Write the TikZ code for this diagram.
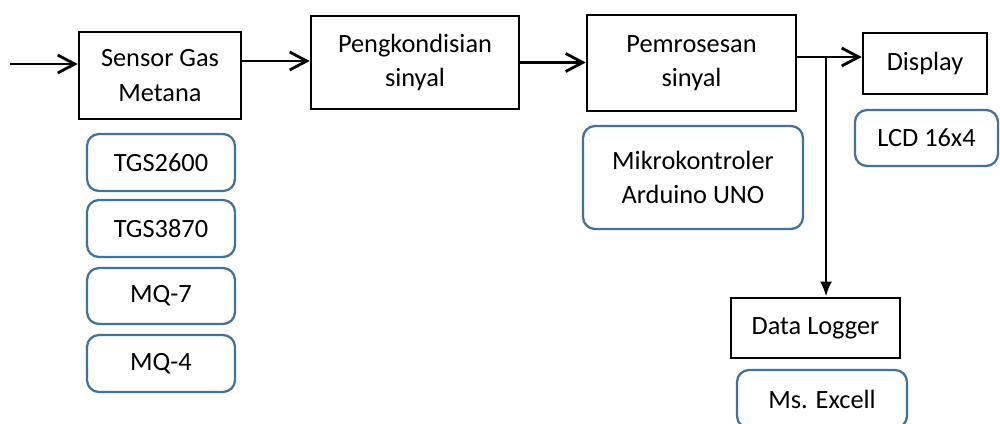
\documentclass[tikz,border=0pt]{standalone}
\usepackage{fontspec}
\setmainfont{Carlito}
\usepackage{tikz}
\usetikzlibrary{arrows.meta,positioning}

\definecolor{birubingkai}{HTML}{41719C}

\begin{document}
\begin{tikzpicture}[x=0.02cm, y=-0.02cm]
\tikzstyle{every node}=[font=\fontsize{15}{19.5}\selectfont, align=center, inner sep=0pt] %%
\tikzstyle{blok}=[draw=black, line width=1.5pt]
\tikzstyle{pilihan}=[draw=birubingkai, line width=1.3pt, rounded corners=0.24cm]
\tikzstyle{panah}=[line width=1.6pt, -{Straight Barb[length=0.34cm,width=0.36cm]}]
\tikzstyle{turun}=[line width=1.6pt, -{Latex[length=0.3cm,width=0.24cm]}]
\useasboundingbox (0,0) rectangle (1000,423);
\clip (0,0) rectangle (1000,423);
%% blok utama
\node[blok, minimum width=3.24cm, minimum height=1.74cm] (sensor) at (160,75.5) {Sensor Gas\\Metana};
\node[blok, minimum width=4.16cm, minimum height=1.86cm] (kondisi) at (415,62.5) {Pengkondisian\\sinyal};
\node[blok, minimum width=4.18cm, minimum height=1.92cm] (proses) at (691.5,63) {Pemrosesan\\sinyal};
\node[blok, minimum width=2.48cm, minimum height=1.22cm] (display) at (925,63.5) {Display};
\node[blok, minimum width=3.38cm, minimum height=1.2cm] (logger) at (815.5,328) {Data Logger};
%% keterangan
\node[pilihan, minimum width=2.96cm, minimum height=1.14cm] (tgsa) at (161,162.5) {TGS2600};
\node[pilihan, minimum width=2.96cm, minimum height=1.14cm] (tgsb) at (161,228.5) {TGS3870};
\node[pilihan, minimum width=2.96cm, minimum height=1.12cm] (mqa) at (161,296) {MQ-7};
\node[pilihan, minimum width=2.96cm, minimum height=1.14cm] (mqb) at (161,363.5) {MQ-4};
\node[pilihan, minimum width=4.4cm, minimum height=2.06cm] (mikro) at (693,177.5) {Mikrokontroler\\Arduino UNO};
\node[pilihan, minimum width=2.86cm, minimum height=1.12cm] (lcd) at (926.5,138) {LCD 16x4};
\node[pilihan, minimum width=3.4cm, minimum height=1.16cm] (excel) at (822,399) {Ms. Excell};
%% panah
\coordinate (masuk) at (10,64);
\coordinate (cabang) at (826,57);
\draw[panah] (masuk) -- (masuk -| sensor.west);
\draw[panah] (sensor.east |- 0,61) -- (kondisi.west |- 0,61);
\draw[panah] (kondisi.east) -- (kondisi.east -| proses.west);
\draw[line width=1.6pt] (proses.east |- cabang) -- (cabang);
\draw[panah] (cabang) -- (cabang -| display.west);
\draw[turun] (cabang) -- (cabang |- logger.north);
\end{tikzpicture}
\end{document}
